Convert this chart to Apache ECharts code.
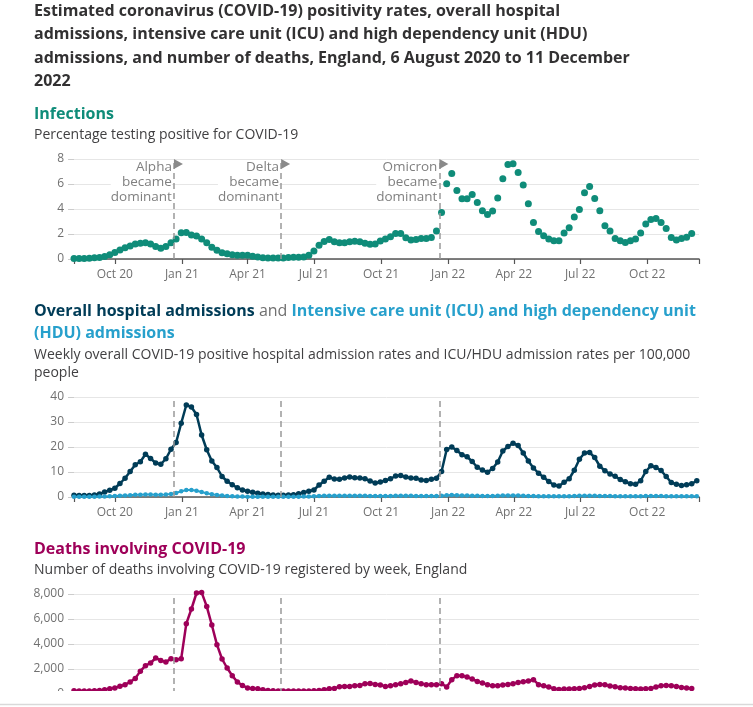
<!DOCTYPE html>
<html><head><meta charset="utf-8">
<script src="https://cdn.jsdelivr.net/npm/echarts@6/dist/echarts.min.js"></script>
<style>html,body{margin:0;padding:0;background:#fff}#c{width:753px;height:707px}</style>
</head><body><div id="c"></div>
<script>
// ---------- data ----------
const weekStart = '2020-08-06';
const axisStart = '2020-08-06';
const axisEnd = '2022-12-11';
const tickDates = ['2020-10-01','2021-01-01','2021-04-01','2021-07-01','2021-10-01','2022-01-01','2022-04-01','2022-07-01','2022-10-01'];
const monthNames = ['Jan','Feb','Mar','Apr','May','Jun','Jul','Aug','Sep','Oct','Nov','Dec'];
const variantNames = ['Alpha','Delta','Omicron'];
const variantDates = ['2020-12-21','2021-05-17','2021-12-20'];

// % testing positive (weekly)
const infections = [0.05,0.05,0.05,0.07,0.1,0.12,0.2,0.35,0.53,0.72,
 0.9,1.05,1.2,1.27,1.3,1.2,1.0,0.86,1.0,1.3,
 1.6,2.1,2.12,1.92,1.85,1.6,1.3,0.95,0.7,0.5,
 0.42,0.35,0.3,0.3,0.3,0.22,0.16,0.1,0.08,0.08,
 0.08,0.08,0.12,0.15,0.15,0.16,0.3,0.65,1.1,1.4,
 1.57,1.38,1.3,1.3,1.38,1.42,1.38,1.27,1.18,1.2,
 1.44,1.6,1.78,2.05,2.05,1.7,1.52,1.57,1.65,1.65,
 1.73,2.24,3.73,6.03,6.85,5.49,4.83,4.83,5.17,4.53,
 3.87,3.57,3.84,4.88,6.43,7.57,7.63,6.93,5.92,4.43,
 2.93,2.21,1.87,1.6,1.47,1.47,2.08,2.51,3.36,3.97,
 5.31,5.81,4.85,3.87,2.67,2.24,1.65,1.47,1.33,1.47,
 1.6,2.08,2.8,3.17,3.25,2.93,2.45,1.73,1.52,1.65,
 1.75,2.05];

// overall hospital admissions per 100,000 (weekly)
const hospital = [0.7,0.6,0.6,0.6,0.8,1.2,2.0,2.7,3.5,5.4,
 7.5,10.2,12.9,14.1,17.1,15.4,13.6,13.1,15.3,19.1,
 21.8,29.5,36.8,36.0,33.0,24.8,18.9,14.4,11.8,8.2,
 6.3,4.9,3.7,2.8,2.3,1.9,1.5,1.2,1.0,0.8,
 0.7,0.7,0.8,0.9,1.3,1.8,2.3,2.8,4.8,6.3,
 7.9,7.2,7.1,7.6,8.0,7.7,7.6,7.3,6.4,5.6,
 6.0,6.6,7.3,8.4,8.6,8.0,7.6,7.5,6.8,6.6,
 7.1,7.5,10.2,19.0,20.0,18.6,16.9,16.1,14.2,11.9,
 10.8,9.9,11.4,14.0,18.4,20.2,21.5,20.6,17.6,14.4,
 11.6,9.5,7.9,6.2,4.8,4.4,5.9,7.3,10.7,15.1,
 17.6,17.8,15.8,12.3,10.5,9.2,8.3,7.0,6.1,5.3,
 5.1,6.5,10.2,12.5,11.8,10.6,8.2,5.8,5.1,4.6,
 4.9,5.3,6.5];

// ICU/HDU admissions per 100,000 (weekly)
const icu = [0.1,0.1,0.1,0.1,0.1,0.2,0.2,0.3,0.4,0.5,
 0.6,0.7,0.9,0.9,1.0,1.0,0.9,0.9,1.0,1.2,
 1.6,2.3,2.8,2.8,2.5,2.0,1.5,1.1,0.8,0.6,
 0.4,0.3,0.2,0.2,0.1,0.1,0.1,0.1,0.1,0.1,
 0.1,0.1,0.1,0.1,0.1,0.2,0.2,0.3,0.4,0.5,
 0.5,0.5,0.5,0.5,0.5,0.5,0.5,0.5,0.4,0.4,
 0.4,0.4,0.4,0.5,0.5,0.5,0.5,0.4,0.4,0.4,
 0.4,0.4,0.5,0.7,0.8,0.7,0.6,0.6,0.5,0.5,
 0.4,0.4,0.4,0.5,0.6,0.6,0.6,0.6,0.5,0.4,
 0.4,0.3,0.3,0.3,0.3,0.3,0.3,0.3,0.4,0.5,
 0.5,0.5,0.5,0.4,0.4,0.4,0.3,0.3,0.3,0.3,
 0.3,0.3,0.4,0.4,0.4,0.4,0.3,0.3,0.3,0.3,
 0.3,0.3,0.3];

// deaths involving COVID-19 registered by week
const deaths = [270,240,240,240,270,290,350,430,480,620,
 750,960,1250,1830,2270,2480,2880,2690,2560,2830,
 2750,2830,5630,6800,8080,8130,7010,5520,3950,2800,
 2080,1470,960,690,480,450,430,350,290,260,
 240,240,240,240,240,240,250,260,290,350,
 430,450,590,610,610,670,690,830,850,770,
 720,610,670,750,830,930,1040,930,830,750,
 750,750,830,560,1150,1470,1470,1360,1200,1010,
 880,750,670,670,720,770,830,930,990,1040,
 1150,750,670,560,430,370,400,400,430,450,
 510,610,720,770,750,640,590,510,480,450,
 430,400,430,450,560,670,690,670,610,530,
 480,450];

// ---------- helpers ----------
function ts(s){const p=s.split('-').map(Number);return Date.UTC(p[0],p[1]-1,p[2]);}
const DAY = 86400000;
function weekly(vals){const t0=ts(weekStart);return vals.map((v,i)=>[t0+i*7*DAY,v]);}
const FONT = "'Open Sans', sans-serif";
const C_INF = '#0f8c79', C_HOSP = '#003c57', C_ICU = '#27a0cc', C_DEATH = '#9e0059';
const C_TEXT = '#323132', C_SUB = '#414042', C_AXIS = '#707070', C_GRID = '#e6e6e6';

const tickVals = tickDates.map(ts);
const xMin = ts(axisStart), xMax = ts(axisEnd);

function xAxisCfg(gi){
  return {
    type:'value', gridIndex:gi, min:xMin, max:xMax, scale:true,
    axisLine:{show:true,onZero:false,lineStyle:{color:'#555',width:1.5}},
    axisTick:{show:true,length:5,lineStyle:{color:'#555',width:1.2},customValues:[xMin].concat(tickVals,[xMax])},
    axisLabel:{show:true,color:C_AXIS,fontFamily:FONT,fontSize:12,margin:10,customValues:tickVals,
      formatter:function(v){const d=new Date(v);return monthNames[d.getUTCMonth()]+' '+String(d.getUTCFullYear()).slice(2);}},
    splitLine:{show:false}
  };
}
function yAxisCfg(gi,max,interval,fmt){
  return {
    type:'value', gridIndex:gi, min:0, max:max, interval:interval,
    axisLine:{show:false},
    axisTick:{show:true,length:6,lineStyle:{color:'#cccccc'}},
    axisLabel:{color:C_AXIS,fontFamily:FONT,fontSize:12,margin:10,formatter:fmt},
    splitLine:{lineStyle:{color:C_GRID,width:1}}
  };
}
const markLineCfg = {
  silent:true, symbol:['none','none'], animation:false,
  label:{show:false},
  lineStyle:{type:[6,4],color:'#999999',width:1.5},
  data: variantDates.map(d=>({xAxis:ts(d)}))
};

const chart = echarts.init(document.getElementById('c'),null,{renderer:'canvas'});
const gridBase = {left:74,right:54,height:100,containLabel:false,outerBoundsMode:'none'};
chart.setOption({
  animation:false,
  backgroundColor:'#ffffff',
  grid:[
    Object.assign({top:159},gridBase),
    Object.assign({top:397},gridBase),
    Object.assign({top:594},gridBase)
  ],
  xAxis:[xAxisCfg(0),xAxisCfg(1),xAxisCfg(2)],
  yAxis:[
    yAxisCfg(0,8,2),
    yAxisCfg(1,40,10),
    yAxisCfg(2,8000,2000,function(v){return v.toLocaleString('en-GB');})
  ],
  series:[
    {type:'scatter',xAxisIndex:0,yAxisIndex:0,data:weekly(infections),symbolSize:7,
      itemStyle:{color:C_INF,opacity:1},markLine:markLineCfg,z:3},
    {type:'line',xAxisIndex:1,yAxisIndex:1,data:weekly(hospital),symbol:'circle',symbolSize:5.5,showSymbol:true,
      lineStyle:{color:C_HOSP,width:2.5},itemStyle:{color:C_HOSP},markLine:markLineCfg,z:3},
    {type:'line',xAxisIndex:1,yAxisIndex:1,data:weekly(icu),symbol:'circle',symbolSize:4.5,showSymbol:true,
      lineStyle:{color:C_ICU,width:2},itemStyle:{color:C_ICU},z:4},
    {type:'line',xAxisIndex:2,yAxisIndex:2,data:weekly(deaths),symbol:'circle',symbolSize:5.5,showSymbol:true,clip:false,
      lineStyle:{color:C_DEATH,width:2.5},itemStyle:{color:C_DEATH},markLine:markLineCfg,z:3}
  ]
});

// ---------- texts ----------
const g = [];
function txt(x,y,text,size,color,weight){
  g.push({type:'text',left:x,top:y,z:50,style:{text:text,fontFamily:FONT,fontSize:size,fill:color,fontWeight:weight||'normal'}});
}
const titleLines = ['Estimated coronavirus (COVID-19) positivity rates, overall hospital',
  'admissions, intensive care unit (ICU) and high dependency unit (HDU)',
  'admissions, and number of deaths, England, 6 August 2020 to 11 December',
  '2022'];
titleLines.forEach((t,i)=>txt(34,3+i*23.5,t,16,C_TEXT,'bold'));
txt(34,106,'Infections',16,C_INF,'bold');
txt(34,128,'Percentage testing positive for COVID-19',14,C_SUB);
g.push({type:'text',left:34,top:300,z:50,style:{
  text:'{a|Overall hospital admissions}{b| and }{c|Intensive care unit (ICU) and high dependency unit}\n{c|(HDU) admissions}',
  fontFamily:FONT,fontSize:16,lineHeight:22.5,
  rich:{
    a:{fontFamily:FONT,fontSize:16,fontWeight:'bold',fill:C_HOSP,lineHeight:22.5},
    b:{fontFamily:FONT,fontSize:16,fontWeight:'normal',fill:'#707070',lineHeight:22.5},
    c:{fontFamily:FONT,fontSize:16,fontWeight:'bold',fill:C_ICU,lineHeight:22.5}
  }}});
txt(34,348,'Weekly overall COVID-19 positive hospital admission rates and ICU/HDU admission rates per 100,000',14,C_SUB);
txt(34,366,'people',14,C_SUB);
txt(34,541,'Deaths involving COVID-19',16,C_DEATH,'bold');
txt(34,563,'Number of deaths involving COVID-19 registered by week, England',14,C_SUB);

// variant annotations
const yTop = chart.convertToPixel({yAxisIndex:0},8);
variantDates.forEach((d,i)=>{
  const px = chart.convertToPixel({xAxisIndex:0},ts(d));
  g.push({type:'text',x:px-2,y:yTop+1,z:50,style:{text:variantNames[i]+'\nbecame\ndominant',
    fontFamily:FONT,fontSize:13.5,lineHeight:15,fill:'#808080',align:'right',verticalAlign:'top',
    backgroundColor:'#ffffff'}});
  g.push({type:'polygon',z:50,shape:{points:[[px,yTop],[px+9,yTop+5],[px,yTop+10]]},style:{fill:'#8a8a8a'}});
});

// page clip at the bottom
g.push({type:'rect',z:200,shape:{x:0,y:691,width:753,height:16},style:{fill:'#ffffff'}});
g.push({type:'line',z:201,shape:{x1:0,y1:704.5,x2:753,y2:704.5},style:{stroke:'#d9d9d9',lineWidth:1.5}});

chart.setOption({graphic:g});
</script>
</body></html>
